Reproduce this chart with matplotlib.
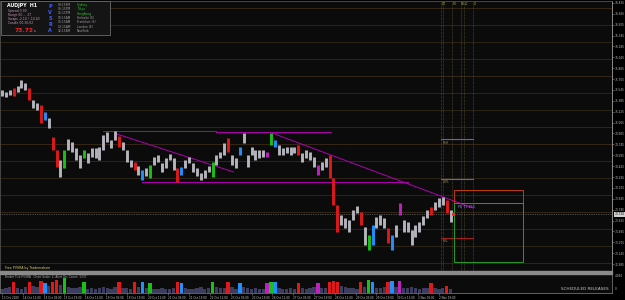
import matplotlib
matplotlib.use('Agg')
import matplotlib.pyplot as plt
from matplotlib.patches import Rectangle

# H1 bars, sampled every 3rd bar (x = bar index in hours from first bar)
bar_idx = list(range(0, 346, 3))
highs = [75.54, 75.52, 75.54, 75.57, 75.60, 75.69, 75.65, 75.57, 75.40, 75.35,
         75.32, 75.22, 75.13, 74.85, 74.66, 74.52, 74.66, 74.82, 74.78, 74.69,
         74.59, 74.66, 74.62, 74.69, 74.69, 74.71, 74.88, 74.93, 74.81, 74.94,
         74.87, 74.78, 74.66, 74.52, 74.49, 74.43, 74.37, 74.40, 74.44, 74.56,
         74.59, 74.47, 74.54, 74.60, 74.54, 74.40, 74.41, 74.52, 74.56, 74.47,
         74.40, 74.32, 74.37, 74.43, 74.49, 74.59, 74.63, 74.77, 74.84, 74.59,
         74.54, 74.71, 74.91, 74.59, 74.71, 74.66, 74.66, 74.66, 74.63, 74.91,
         74.81, 74.74, 74.69, 74.71, 74.71, 74.71, 74.74, 74.62, 74.66, 74.63,
         74.56, 74.44, 74.49, 74.54, 74.59, 74.25, 73.85, 73.71, 73.66, 73.63,
         73.78, 73.84, 73.75, 73.53, 73.41, 73.56, 73.68, 73.71, 73.66, 73.52,
         73.41, 73.56, 73.88, 73.63, 73.60, 73.49, 73.56, 73.60, 73.69, 73.78,
         73.82, 73.90, 73.96, 73.97, 73.93, 73.78]
lows = [75.46, 75.44, 75.47, 75.46, 75.52, 75.57, 75.54, 75.40, 75.28, 75.25,
        75.06, 75.10, 74.99, 74.66, 74.41, 74.27, 74.40, 74.66, 74.63, 74.52,
        74.40, 74.54, 74.47, 74.56, 74.54, 74.52, 74.66, 74.78, 74.69, 74.81,
        74.71, 74.66, 74.49, 74.41, 74.37, 74.29, 74.22, 74.28, 74.25, 74.44,
        74.49, 74.34, 74.40, 74.52, 74.37, 74.19, 74.29, 74.40, 74.47, 74.34,
        74.28, 74.22, 74.25, 74.34, 74.27, 74.44, 74.54, 74.59, 74.63, 74.44,
        74.40, 74.59, 74.77, 74.41, 74.59, 74.52, 74.54, 74.56, 74.56, 74.74,
        74.71, 74.59, 74.59, 74.62, 74.59, 74.62, 74.59, 74.49, 74.54, 74.52,
        74.41, 74.29, 74.37, 74.41, 74.25, 73.85, 73.46, 73.56, 73.52, 73.46,
        73.63, 73.74, 73.56, 73.27, 73.19, 73.27, 73.52, 73.56, 73.52, 73.29,
        73.19, 73.38, 73.71, 73.46, 73.46, 73.27, 73.38, 73.46, 73.56, 73.66,
        73.71, 73.78, 73.82, 73.85, 73.74, 73.60]
volumes = [900, 1100, 1300, 2600, 1200, 1000, 1400, 2500, 1500, 1300,
           2700, 2300, 1600, 2600, 2900, 1700, 3300, 1400, 1200, 1100,
           1300, 2400, 1000, 1200, 900, 1100, 1400, 1200, 1000, 1300,
           2500, 1100, 1200, 1000, 2400, 1300, 2500, 1100, 2200, 1000,
           900, 1100, 800, 1000, 1200, 2600, 2300, 1200, 900, 1000,
           1100, 1300, 1000, 1200, 2500, 1300, 1100, 1200, 2400, 1300,
           1000, 2300, 1400, 1200, 1000, 1100, 900, 1000, 2200, 2400,
           2500, 1200, 1000, 900, 1100, 1000, 2300, 1200, 1000, 1100,
           1300, 2200, 1100, 1200, 2600, 2700, 2500, 1500, 1300, 1200,
           1100, 1000, 2500, 1400, 3000, 2400, 1200, 1100, 1300, 2600,
           2700, 1300, 2800, 1200, 1100, 1300, 1200, 1000, 1100, 1200,
           2300, 1200, 1000, 1100, 1600, 900]

# PVSRA highlighted bars (position in the sampled list)
red_bars = [3, 7, 10, 13, 14, 30, 34, 45, 58, 76, 84, 85, 86, 92, 99, 110, 114]
blue_bars = [11, 36, 46, 61, 70, 95, 100]
green_bars = [16, 21, 38, 54, 69, 94]
purple_bars = [68, 81, 102]

current_price = 73.72
quarter_levels = [73.00, 73.25, 73.50, 73.75, 74.00, 74.25, 74.50, 74.75,
                  75.00, 75.25, 75.50, 75.75, 76.00, 76.25, 76.50, 76.75]
price_ticks = [76.825, 76.665, 76.505, 76.345, 76.185, 76.025, 75.865, 75.705,
               75.545, 75.385, 75.225, 75.065, 74.905, 74.745, 74.585, 74.425,
               74.265, 74.105, 73.945, 73.785, 73.625, 73.465, 73.305, 73.145, 72.985]
date_idx = [0, 16, 32, 48, 64, 80, 96, 112, 128, 144, 160, 176, 192, 208,
            224, 240, 256, 272, 288, 304, 320, 336]
date_labels = ['13 Oct 2020', '14 Oct 11:00', '15 Oct 03:00', '15 Oct 19:00',
               '16 Oct 11:00', '19 Oct 03:00', '19 Oct 19:00', '20 Oct 11:00',
               '21 Oct 03:00', '21 Oct 19:00', '22 Oct 11:00', '23 Oct 03:00',
               '23 Oct 19:00', '26 Oct 11:00', '27 Oct 03:00', '27 Oct 19:00',
               '28 Oct 11:00', '29 Oct 03:00', '29 Oct 19:00', '30 Oct 11:00',
               '2 Nov 03:00', '2 Nov 19:00']

# trend lines drawn on the chart: (x0, p0, x1, p1)
trend_lines = [(78, 74.94, 165, 74.94), (165, 74.92, 253, 74.92),
               (88, 74.90, 178, 74.34), (108, 74.19, 312, 74.19),
               (208, 74.91, 362, 73.81)]
# pivot markers on the right: (price, colour, label)
pivot_lines = [(74.82, '#6a5acd', 'R1H'), (74.24, '#6a5acd', '80%'), (73.37, '#a02020', '80L')]
session_x = [338, 339.6, 346.5, 352.7, 355.4, 362]
session_names = ['DT', '', 'RO', 'NY', 'LC', 'D']
box_x = (348, 401)
box_top = (73.88, 74.08)
box_bottom = (73.02, 73.88)

level_colors = {0.0: '#262848', 0.25: '#33281a', 0.5: '#1c361c', 0.75: '#3c2c16'}

W, H = 625, 300
def fx(px):
    return px / W
def fy(py):
    return 1 - py / H

fig = plt.figure(figsize=(6.25, 3), dpi=100, facecolor='black')
ax = fig.add_axes([0, fy(271), fx(612), 270 / H])
ax.set_facecolor('#0b0b0b')
ax.set_xlim(-1.5, 469.2)
ax.set_ylim(72.883, 76.853)

for lv in quarter_levels:
    ax.axhline(lv, color=level_colors[lv % 1], lw=0.6, zorder=1)

for x in session_x:
    ax.axvline(x, color='#55552e', lw=0.5, ls=(0, (1, 1)), zorder=1)
for x, name in zip(session_x, session_names):
    if name:
        ax.text(x + 0.5, 76.84, name, fontsize=2.2, color='#a0a050', va='top', ha='left')

ax.axhline(current_price, color='#8a8a8a', lw=0.5, ls=(0, (1, 1.5)), zorder=2)

cols = []
for i in range(len(bar_idx)):
    if i in red_bars:
        cols.append('#e01818')
    elif i in blue_bars:
        cols.append('#2090ff')
    elif i in green_bars:
        cols.append('#18c018')
    elif i in purple_bars:
        cols.append('#c020c0')
    else:
        cols.append('#b4b4bc')
ax.vlines(bar_idx, lows, highs, colors=cols, lw=2.1, zorder=4)

for x0, p0, x1, p1 in trend_lines:
    ax.plot([x0, x1], [p0, p1], color='#b000b0', lw=0.7, zorder=3)

for p, c, lab in pivot_lines:
    ax.plot([338, 362], [p, p], color=c, lw=0.8, zorder=3)
    ax.text(339, p - 0.02, lab, fontsize=2.2, color='#a09050', va='top', ha='left')

ax.add_patch(Rectangle((box_x[0], box_top[0]), box_x[1] - box_x[0], box_top[1] - box_top[0],
                       fill=False, edgecolor='#c03a10', lw=0.7, zorder=3))
ax.add_patch(Rectangle((box_x[0], box_bottom[0]), box_x[1] - box_x[0], box_bottom[1] - box_bottom[0],
                       fill=False, edgecolor='#2a9a2a', lw=0.7, zorder=3))
ax.text(351, 73.86, 'PE 73.855', fontsize=2.4, color='#8c8cff', va='top', ha='left', zorder=5)
ax.plot([347], [current_price], 's', color='#ff2020', ms=1.2, zorder=5)

ax.text(2, 72.93, 'Free PVSRA by Trademahom', fontsize=2.3, color='#d8d070', va='center', ha='left')

ax.yaxis.tick_right()
ax.set_yticks(price_ticks)
ax.set_yticklabels(['%.3f' % t for t in price_ticks], fontsize=2.1, color='#c0c0c0')
ax.tick_params(axis='y', length=1.5, pad=0.8, color='#909090', width=0.4)
ax.tick_params(axis='x', bottom=False, labelbottom=False)
for s in ax.spines.values():
    s.set_color('#505050')
    s.set_linewidth(0.6)
ax.spines['right'].set_color('#a0a0a0')
ax.text(1.004, current_price, '73.720', transform=ax.get_yaxis_transform(), fontsize=2.1,
        color='black', va='center', ha='left', clip_on=False,
        bbox=dict(facecolor='#d0d0d0', edgecolor='none', pad=0.4))

# volume sub-window
vax = fig.add_axes([0, fy(293), fx(612), 19 / H])
vax.set_facecolor('#0b0b0b')
vcols = ['#3c3c5e' if c == '#b4b4bc' else c for c in cols]
vax.bar(bar_idx, volumes, width=2.6, color=vcols)
vax.set_xlim(-1.5, 469.2)
vax.set_ylim(0, 4300)
vax.set_yticks([])
vax.set_xticks(date_idx)
vax.set_xticklabels(date_labels, fontsize=2.0, color='#c8c8c8', ha='left')
vax.tick_params(axis='x', length=1.5, pad=0.8, color='#909090', width=0.4)
for s in vax.spines.values():
    s.set_color('#707070')
    s.set_linewidth(0.6)
vax.text(2, 4050, 'Broker Tick PVSRA   Chart Scale: 2, Alert On, Count: 1337', fontsize=2.1,
         color='#b0b0b0', va='top', ha='left')
vax.text(0.995, 0.12, 'SCHEDULED RELEASES', transform=vax.transAxes, fontsize=3.0,
         color='#c8c8c8', va='bottom', ha='right')
vax.text(1.004, 1.0, '4.092', transform=vax.transAxes, fontsize=2.1, color='#c0c0c0', va='top', ha='left')
vax.text(1.004, 0.1, '0', transform=vax.transAxes, fontsize=2.1, color='#c0c0c0', va='bottom', ha='left')

fig.add_artist(Rectangle((0, fy(273.5)), fx(612), 2.5 / H, transform=fig.transFigure,
                         color='#8a8a8a', zorder=10))

# info panel top-left
fig.add_artist(Rectangle((fx(1), fy(35)), fx(109), 34 / H, transform=fig.transFigure,
                         facecolor='#141414', edgecolor='#6a6a6a', lw=0.6, zorder=20))
fig.text(fx(7), fy(5), 'AUDJPY  H1', fontsize=3.4, color='white', weight='bold', va='center', zorder=21)
info_rows = ['Spread 0.90', 'Range 60 ... 27', 'Swaps -2.10 / -10.40', 'Candle 00:30:02']
for i, row in enumerate(info_rows):
    fig.text(fx(8), fy(10.7 + 4.2 * i), row, fontsize=2.2, color='#c898b4', va='center', zorder=21)
fig.text(fx(15), fy(30.5), '73.72', fontsize=4.3, color='#ff2020', weight='bold', va='center', zorder=21)
fig.text(fx(34), fy(31), 's', fontsize=2.4, color='#d0d0d0', va='center', zorder=21)
for i, ch in enumerate('PVSRA'):
    fig.text(fx(50), fy(7 + 6 * i), ch, fontsize=3.5, color='#4060ff', weight='bold',
             va='center', ha='center', zorder=21)
session_times = ['08:15PM', '06:15PM', '05:15PM', '02:15AM', '01:15AM', '00:15AM', '12:15AM']
session_cities = ['Sydney', 'Tokyo', 'HongKong', 'Helsinki (E)', 'Frankfurt (E)', 'London (E)', 'NewYork']
city_colors = ['#30c030', '#30c030', '#30c030', '#a0a0a0', '#a0a0a0', '#a0a0a0', '#a0a0a0']
for i in range(7):
    y = 4.7 + 4.4 * i
    fig.text(fx(58), fy(y), session_times[i], fontsize=2.2, color='#a0a0a0', va='center', zorder=21)
    fig.text(fx(77), fy(y), session_cities[i], fontsize=2.2, color=city_colors[i], va='center', zorder=21)

fig.savefig('out.png', dpi=100, facecolor='black')
